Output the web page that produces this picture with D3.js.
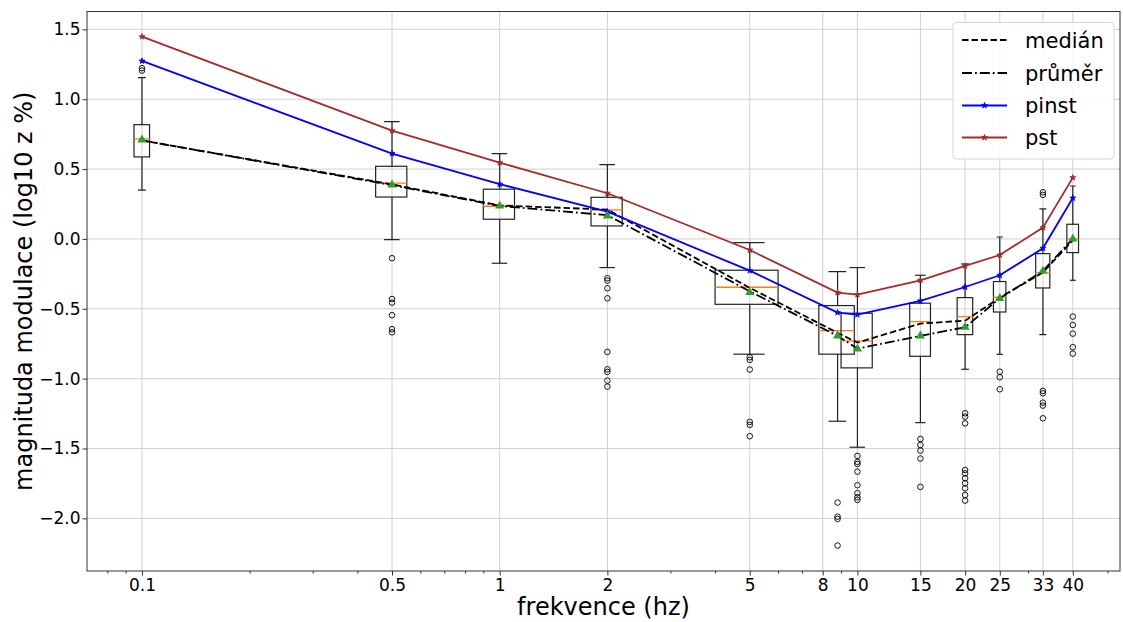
<!DOCTYPE html>
<html>
<head>
<meta charset="utf-8">
<script src="https://cdn.jsdelivr.net/npm/d3@7"></script>
<style>
  html, body { margin: 0; padding: 0; background: #fff; }
  svg { display: block; font-family: "DejaVu Sans", sans-serif; }
</style>
</head>
<body>
<svg id="chart" width="1123" height="622"></svg>
<script>
// ---------- DATA ----------
const frequencies = [0.1, 0.5, 1, 2, 5, 8.8, 10, 15, 20, 25, 33, 40];
const xTickValues = [0.1, 0.5, 1, 2, 5, 8, 10, 15, 20, 25, 33, 40];
const xTickLabels = ["0.1", "0.5", "1", "2", "5", "8", "10", "15", "20", "25", "33", "40"];
const yTickValues = [-2.0, -1.5, -1.0, -0.5, 0.0, 0.5, 1.0, 1.5];

const whiskerHigh = [1.155, 0.84, 0.611, 0.532, -0.026, -0.234, -0.205, -0.26, -0.179, 0.014, 0.215, 0.379];
const boxQ3       = [0.818, 0.52, 0.356, 0.298, -0.224, -0.477, -0.532, -0.46, -0.42, -0.305, -0.105, 0.105];
const boxMedian   = [0.716, 0.40, 0.234, 0.208, -0.346, -0.656, -0.73, -0.592, -0.556, -0.417, -0.243, 0.0];
const boxQ1       = [0.587, 0.30, 0.141, 0.093, -0.468, -0.825, -0.923, -0.84, -0.685, -0.523, -0.351, -0.098];
const whiskerLow  = [0.349, -0.005, -0.174, -0.205, -0.825, -1.305, -1.491, -1.315, -0.933, -0.826, -0.685, -0.296];
const boxMean     = [0.709, 0.387, 0.236, 0.165, -0.382, -0.694, -0.787, -0.694, -0.632, -0.425, -0.229, 0.0];
const outliers = [
  [1.222, 1.205],
  [-0.138, -0.43, -0.456, -0.546, -0.646, -0.668],
  [],
  [-0.281, -0.298, -0.353, -0.425, -0.809, -0.933, -0.952, -1.014, -1.057],
  [-0.847, -0.866, -0.935, -1.31, -1.331, -1.412],
  [-1.887, -1.988, -2.004, -2.195],
  [-1.553, -1.596, -1.611, -1.666, -1.763, -1.82, -1.849, -1.868],
  [-1.432, -1.475, -1.515, -1.572, -1.775],
  [-1.248, -1.272, -1.32, -1.654, -1.678, -1.713, -1.749, -1.785, -1.833, -1.873],
  [-0.95, -0.99, -1.076],
  [0.334, 0.315, -1.088, -1.105, -1.172, -1.193, -1.284],
  [-0.556, -0.616, -0.678, -0.775, -0.821]
];

const medianLine = [0.705, 0.39, 0.24, 0.21, -0.35, -0.672, -0.742, -0.606, -0.585, -0.42, -0.24, -0.01];
const meanLine   = [0.705, 0.385, 0.236, 0.17, -0.375, -0.694, -0.785, -0.694, -0.632, -0.425, -0.229, 0.0];
const pinst      = [1.274, 0.611, 0.392, 0.195, -0.227, -0.527, -0.542, -0.444, -0.344, -0.26, -0.067, 0.293];
const pst        = [1.448, 0.775, 0.546, 0.327, -0.079, -0.384, -0.399, -0.296, -0.193, -0.115, 0.081, 0.439];

const legendLabels = ["medián", "průměr", "pinst", "pst"];
const xAxisTitle = "frekvence (hz)";
const yAxisTitle = "magnituda modulace (log10 z %)";

// ---------- LAYOUT / STYLE ----------
const boxWidthsData = [0.01, 0.1, 0.2, 0.4, 2, 2, 2, 2, 2, 2, 3, 3]; // box widths in data units
const plot = { left: 87, top: 11.5, right: 1120, bottom: 571 };

const svg = d3.select("#chart");
const x = d3.scaleLog().domain([0.0702, 54.2]).range([plot.left, plot.right]);
const y = d3.scaleLinear().domain([-2.377, 1.628]).range([plot.bottom, plot.top]);

const gridColor = "#d0d0d0";

// clip
svg.append("defs").append("clipPath").attr("id", "clip")
  .append("rect").attr("x", plot.left).attr("y", plot.top)
  .attr("width", plot.right - plot.left).attr("height", plot.bottom - plot.top);

// grid
const grid = svg.append("g");
grid.selectAll("line.vg").data(xTickValues).join("line")
  .attr("x1", d => x(d)).attr("x2", d => x(d))
  .attr("y1", plot.top).attr("y2", plot.bottom)
  .attr("stroke", gridColor).attr("stroke-width", 1);
grid.selectAll("line.hg").data(yTickValues).join("line")
  .attr("x1", plot.left).attr("x2", plot.right)
  .attr("y1", d => y(d)).attr("y2", d => y(d))
  .attr("stroke", gridColor).attr("stroke-width", 1);

// axes
const minorTicks = [];
for (let e = -2; e <= 1; e++) {
  for (let s = 2; s <= 9; s++) {
    const v = s * Math.pow(10, e);
    if (v > x.domain()[0] && v < x.domain()[1] && !xTickValues.some(t => Math.abs(t - v) < 1e-9)) minorTicks.push(v);
  }
}
const xAxis = d3.axisBottom(x).tickValues(xTickValues)
  .tickFormat((d, i) => xTickLabels[i]).tickSizeOuter(0).tickSize(4.5).tickPadding(3.5);
const gx = svg.append("g").attr("transform", `translate(0,${plot.bottom})`).call(xAxis);
gx.select(".domain").remove();
gx.selectAll("text").attr("font-size", "17px").attr("fill", "#000")
  .attr("font-family", "DejaVu Sans, sans-serif");
gx.selectAll("line").attr("stroke", "#333");
const gxm = svg.append("g").attr("transform", `translate(0,${plot.bottom})`)
  .call(d3.axisBottom(x).tickValues(minorTicks).tickFormat("").tickSize(2.5).tickSizeOuter(0));
gxm.select(".domain").remove();
gxm.selectAll("line").attr("stroke", "#333");

const yAxis = d3.axisLeft(y).tickValues(yTickValues)
  .tickFormat(d => d3.format(".1f")(d).replace("-", "\u2212")).tickSizeOuter(0).tickSize(4.5).tickPadding(2);
const gy = svg.append("g").attr("transform", `translate(${plot.left},0)`).call(yAxis);
gy.select(".domain").remove();
gy.selectAll("text").attr("font-size", "17px").attr("fill", "#000")
  .attr("font-family", "DejaVu Sans, sans-serif");
gy.selectAll("line").attr("stroke", "#333");

// axis titles
svg.append("text").attr("x", (plot.left + plot.right) / 2).attr("y", 615)
  .attr("text-anchor", "middle").attr("font-size", "24px").text(xAxisTitle);
svg.append("text").attr("transform", `translate(32,${(plot.top + plot.bottom) / 2}) rotate(-90)`)
  .attr("text-anchor", "middle").attr("font-size", "24px").text(yAxisTitle);

// ---------- BOXES ----------
const boxes = svg.append("g").attr("clip-path", "url(#clip)");
const boxStroke = "#222";
frequencies.forEach((f, i) => {
  const w = boxWidthsData[i];
  const xl = x(f - w / 2), xr = x(f + w / 2);
  const cl = x(f - w / 4), cr = x(f + w / 4);
  const xc = x(f);
  const g = boxes.append("g");
  g.append("line").attr("x1", xc).attr("x2", xc).attr("y1", y(boxQ3[i])).attr("y2", y(whiskerHigh[i]))
    .attr("stroke", boxStroke).attr("stroke-width", 1.2);
  g.append("line").attr("x1", xc).attr("x2", xc).attr("y1", y(boxQ1[i])).attr("y2", y(whiskerLow[i]))
    .attr("stroke", boxStroke).attr("stroke-width", 1.2);
  [whiskerHigh[i], whiskerLow[i]].forEach(v => {
    g.append("line").attr("x1", cl).attr("x2", cr).attr("y1", y(v)).attr("y2", y(v))
      .attr("stroke", boxStroke).attr("stroke-width", 1.2);
  });
  g.append("rect").attr("x", xl).attr("y", y(boxQ3[i]))
    .attr("width", xr - xl).attr("height", y(boxQ1[i]) - y(boxQ3[i]))
    .attr("fill", "none").attr("stroke", boxStroke).attr("stroke-width", 1.2);
  g.append("line").attr("x1", xl).attr("x2", xr).attr("y1", y(boxMedian[i])).attr("y2", y(boxMedian[i]))
    .attr("stroke", "#ff7f0e").attr("stroke-width", 1.3);
  g.selectAll("circle").data(outliers[i]).join("circle")
    .attr("cx", xc).attr("cy", d => y(d)).attr("r", 2.8)
    .attr("fill", "none").attr("stroke", "#000").attr("stroke-width", 0.9);
});

// ---------- LINES ----------
const lineGen = vals => d3.line().x((d, i) => x(frequencies[i])).y(d => y(d))(vals);
const lines = svg.append("g").attr("clip-path", "url(#clip)");
const seriesDefs = [
  { vals: medianLine, color: "#000", dash: "6.5,3", marker: false },
  { vals: meanLine, color: "#000", dash: "10,3,1.8,3", marker: false },
  { vals: pinst, color: "#0000ff", dash: null, marker: true },
  { vals: pst, color: "#a52a2a", dash: null, marker: true }
];
const star = d3.symbol().type(d3.symbolStar).size(11);
seriesDefs.forEach(s => {
  lines.append("path").attr("d", lineGen(s.vals)).attr("fill", "none")
    .attr("stroke", s.color).attr("stroke-width", 1.8)
    .attr("stroke-dasharray", s.dash);
  if (s.marker) {
    lines.selectAll(null).data(s.vals).join("path")
      .attr("d", star).attr("transform", (d, i) => `translate(${x(frequencies[i])},${y(d)})`)
      .attr("fill", s.color).attr("stroke", s.color).attr("stroke-width", 0.8);
  }
});

// mean triangles
const tri = d3.symbol().type(d3.symbolTriangle).size(36);
lines.selectAll("path.mean").data(boxMean).join("path")
  .attr("class", "mean")
  .attr("d", tri).attr("transform", (d, i) => `translate(${x(frequencies[i])},${y(d)})`)
  .attr("fill", "#2ca02c");

// spines
svg.append("rect").attr("x", plot.left).attr("y", plot.top)
  .attr("width", plot.right - plot.left).attr("height", plot.bottom - plot.top)
  .attr("fill", "none").attr("stroke", "#333").attr("stroke-width", 1);

// ---------- LEGEND ----------
const lg = svg.append("g");
lg.append("rect").attr("x", 953).attr("y", 22.5).attr("width", 161).attr("height", 136.5)
  .attr("rx", 4).attr("fill", "#fff").attr("fill-opacity", 0.85)
  .attr("stroke", "#d6d6d6").attr("stroke-width", 1);
const rowY = [40, 73, 105.5, 137.5];
seriesDefs.forEach((s, i) => {
  lg.append("line").attr("x1", 962).attr("x2", 1007).attr("y1", rowY[i]).attr("y2", rowY[i])
    .attr("stroke", s.color).attr("stroke-width", 1.8).attr("stroke-dasharray", s.dash);
  if (s.marker) {
    lg.append("path").attr("d", star).attr("transform", `translate(984.5,${rowY[i]})`)
      .attr("fill", s.color).attr("stroke", s.color).attr("stroke-width", 0.8);
  }
  lg.append("text").attr("x", 1025).attr("y", rowY[i] + 7.5).attr("font-size", "21px")
    .attr("fill", "#000").text(legendLabels[i]);
});
</script>
</body>
</html>
